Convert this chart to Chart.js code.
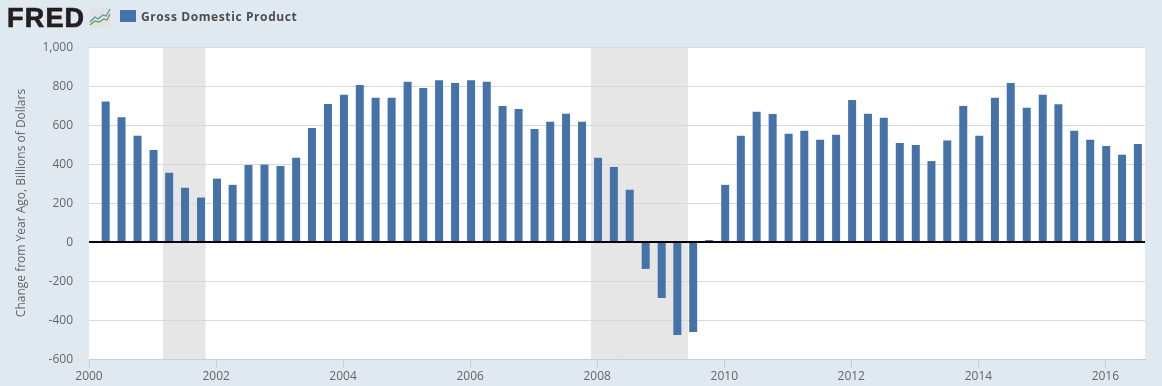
<!DOCTYPE html>
<html>
<head>
<meta charset="utf-8">
<title>Gross Domestic Product</title>
<script src="https://cdn.jsdelivr.net/npm/chart.js@4/dist/chart.umd.min.js"></script>
<style>
  html, body { margin: 0; padding: 0; background: #e1e9f0; overflow: hidden; }
  #caja { position: relative; width: 1162px; height: 386px; }
  #logo { position: absolute; left: 7px; top: 2px; font: bold 27px/32px "Liberation Sans", sans-serif; color: #231f20; -webkit-text-stroke: 0.7px #231f20; letter-spacing: 1.2px; }
  #icono { position: absolute; left: 89px; top: 8px; }
  #cuadro { position: absolute; left: 120px; top: 10px; width: 16px; height: 12px; background: #4572a7; }
  #leyenda { position: absolute; left: 141px; top: 8px; font: bold 12px/18px "Open Sans", sans-serif; color: #4d4d4d; white-space: nowrap; letter-spacing: 0.6px; }
</style>
</head>
<body>
<div id="caja">
  <canvas id="grafico" width="1162" height="386"></canvas>
  <div id="logo">FRED</div>
  <svg id="icono" width="23" height="20" viewBox="0 0 23 20">
    <rect x="0" y="0" width="22" height="20" fill="#dfe3e3"/>
    <polyline points="1,14 6,9 9,11 14,7 17,8 21,1" fill="none" stroke="#5f8fb8" stroke-width="1.2"/>
    <polyline points="1,17 6,13 10,14 15,11 18,12 21,6" fill="none" stroke="#6f9c48" stroke-width="1.2"/>
  </svg>
  <div id="cuadro"></div>
  <div id="leyenda">Gross Domestic Product</div>
</div>
<script>
// Datos
const fechas = [
  '2000-04-01', '2000-07-01', '2000-10-01', '2001-01-01', '2001-04-01', '2001-07-01', '2001-10-01', '2002-01-01',
  '2002-04-01', '2002-07-01', '2002-10-01', '2003-01-01', '2003-04-01', '2003-07-01', '2003-10-01', '2004-01-01',
  '2004-04-01', '2004-07-01', '2004-10-01', '2005-01-01', '2005-04-01', '2005-07-01', '2005-10-01', '2006-01-01',
  '2006-04-01', '2006-07-01', '2006-10-01', '2007-01-01', '2007-04-01', '2007-07-01', '2007-10-01', '2008-01-01',
  '2008-04-01', '2008-07-01', '2008-10-01', '2009-01-01', '2009-04-01', '2009-07-01', '2009-10-01', '2010-01-01',
  '2010-04-01', '2010-07-01', '2010-10-01', '2011-01-01', '2011-04-01', '2011-07-01', '2011-10-01', '2012-01-01',
  '2012-04-01', '2012-07-01', '2012-10-01', '2013-01-01', '2013-04-01', '2013-07-01', '2013-10-01', '2014-01-01',
  '2014-04-01', '2014-07-01', '2014-10-01', '2015-01-01', '2015-04-01', '2015-07-01', '2015-10-01', '2016-01-01',
  '2016-04-01', '2016-07-01'
];
const valores = [
  720, 640, 545, 472, 355, 278, 228, 325,
  293, 395, 397, 390, 432, 585, 708, 755,
  805, 740, 740, 822, 790, 830, 815, 830,
  822, 698, 682, 580, 617, 658, 617, 432,
  385, 268, -138, -287, -477, -461, 10, 293,
  545, 668, 657, 555, 570, 525, 550, 728,
  658, 637, 508, 498, 415, 520, 698, 545,
  740, 815, 688, 755, 707, 570, 525, 492,
  448, 503
];
const anios = [2000, 2002, 2004, 2006, 2008, 2010, 2012, 2014, 2016];
const recesiones = [['2001-03-01', '2001-11-01'], ['2007-11-26', '2009-06-06']];
const inicioEje = '2000-01-01';
const finEje = '2016-08-16';

const aMs = (f) => Date.parse(f + 'T00:00:00Z');
// Las columnas del original caen un poco a la derecha de su fecha
const desfaseBarras = 5 * 24 * 3600 * 1000;

// Fondo blanco y bandas de recesion, debajo de la grilla
const fondoPlugin = {
  id: 'fondo',
  beforeDraw(chart) {
    const { ctx, chartArea: a, scales } = chart;
    ctx.save();
    ctx.fillStyle = '#ffffff';
    ctx.fillRect(a.left, a.top, a.right - a.left, a.bottom - a.top);
    ctx.fillStyle = '#e6e6e6';
    recesiones.forEach(([ini, fin]) => {
      const x0 = scales.x.getPixelForValue(aMs(ini));
      const x1 = scales.x.getPixelForValue(aMs(fin));
      ctx.fillRect(x0, a.top, x1 - x0, a.bottom - a.top);
    });
    ctx.restore();
  }
};

// Linea negra en cero, encima de las barras
const ceroPlugin = {
  id: 'cero',
  afterDatasetsDraw(chart) {
    const { ctx, chartArea: a, scales } = chart;
    const y = Math.round(scales.y.getPixelForValue(0));
    ctx.save();
    ctx.strokeStyle = '#000000';
    ctx.lineWidth = 2;
    ctx.beginPath();
    ctx.moveTo(a.left, y);
    ctx.lineTo(a.right, y);
    ctx.stroke();
    ctx.restore();
  }
};

const ctx = document.querySelector('#grafico').getContext('2d');
new Chart(ctx, {
  type: 'bar',
  data: {
    datasets: [{
      label: 'Gross Domestic Product',
      data: fechas.map((f, i) => ({ x: aMs(f) + desfaseBarras, y: valores[i] })),
      backgroundColor: '#4572a7',
      barThickness: 8,
      inflateAmount: 0
    }]
  },
  options: {
    responsive: false,
    animation: false,
    layout: { padding: { top: 47, right: 17, left: 0, bottom: 0 } },
    plugins: {
      legend: { display: false },
      tooltip: { enabled: false }
    },
    scales: {
      x: {
        type: 'linear',
        offset: false,
        min: aMs(inicioEje),
        max: aMs(finEje),
        afterBuildTicks: (eje) => { eje.ticks = anios.map(a => ({ value: aMs(a + '-01-01') })); },
        afterFit: (eje) => { eje.height = 27; },
        grid: { offset: false, drawOnChartArea: false, drawTicks: true, tickLength: 9, color: '#c0d0e0' },
        border: { color: '#c0d0e0' },
        ticks: {
          autoSkip: false,
          maxRotation: 0,
          padding: 1,
          color: '#666666',
          font: { family: '"Open Sans"', size: 12 },
          callback: (v) => String(new Date(v).getUTCFullYear())
        }
      },
      y: {
        min: -600,
        max: 1000,
        afterFit: (eje) => { eje.width = 89; },
        grid: { color: '#d8d8d8', drawTicks: false },
        border: { display: false },
        ticks: {
          stepSize: 200,
          padding: 16,
          labelOffset: 1,
          color: '#666666',
          font: { family: '"Open Sans"', size: 12 },
          callback: (v) => v.toLocaleString('en-US')
        },
        title: {
          display: true,
          text: 'Change from Year Ago, Billions of Dollars',
          color: '#666666',
          font: { family: '"Open Sans"', size: 12 },
          padding: { top: 14, bottom: 0 }
        }
      }
    }
  },
  plugins: [fondoPlugin, ceroPlugin]
});
</script>
</body>
</html>
